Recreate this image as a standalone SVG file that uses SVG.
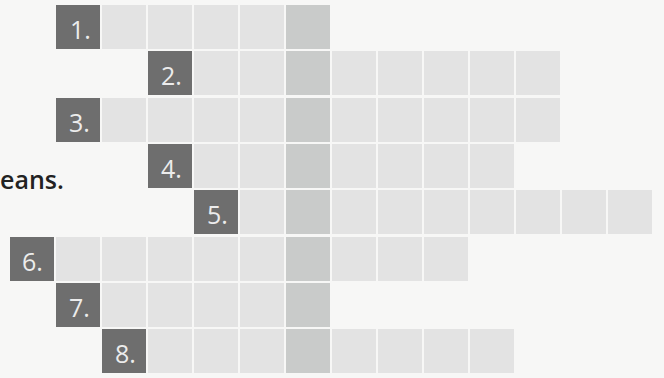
<svg xmlns="http://www.w3.org/2000/svg" width="664" height="378" viewBox="0 0 664 378">
<style>
.bg{fill:#f7f7f6}
.c{fill:#e3e3e3}
.h{fill:#c9cbca}
.l{fill:#6e6e6e}
.n{font-family:"Open Sans","Noto Sans",sans-serif;font-size:25px;fill:#ececec}
.t{font-family:"Open Sans","Noto Sans",sans-serif;font-size:25px;font-weight:600;fill:#222222}
</style>
<rect class="bg" x="0" y="0" width="664" height="378"/>
<text class="t" x="0" y="189">eans.</text>
<g id="row1">
<rect class="l" x="56" y="5" width="44" height="44"/><text class="n" x="70" y="39">1.</text>
<rect class="c" x="102" y="5" width="44" height="44"/><rect class="c" x="148" y="5" width="44" height="44"/><rect class="c" x="194" y="5" width="44" height="44"/><rect class="c" x="240" y="5" width="44" height="44"/><rect class="h" x="286" y="5" width="44" height="44"/>
</g>
<g id="row2">
<rect class="l" x="148" y="51" width="44" height="44"/><text class="n" x="161" y="85">2.</text>
<rect class="c" x="194" y="51" width="44" height="44"/><rect class="c" x="240" y="51" width="44" height="44"/><rect class="h" x="286" y="51" width="44" height="44"/><rect class="c" x="332" y="51" width="44" height="44"/><rect class="c" x="378" y="51" width="44" height="44"/><rect class="c" x="424" y="51" width="44" height="44"/><rect class="c" x="470" y="51" width="44" height="44"/><rect class="c" x="516" y="51" width="44" height="44"/>
</g>
<g id="row3">
<rect class="l" x="56" y="98" width="44" height="44"/><text class="n" x="69" y="132">3.</text>
<rect class="c" x="102" y="98" width="44" height="44"/><rect class="c" x="148" y="98" width="44" height="44"/><rect class="c" x="194" y="98" width="44" height="44"/><rect class="c" x="240" y="98" width="44" height="44"/><rect class="h" x="286" y="98" width="44" height="44"/><rect class="c" x="332" y="98" width="44" height="44"/><rect class="c" x="378" y="98" width="44" height="44"/><rect class="c" x="424" y="98" width="44" height="44"/><rect class="c" x="470" y="98" width="44" height="44"/><rect class="c" x="516" y="98" width="44" height="44"/>
</g>
<g id="row4">
<rect class="l" x="148" y="144" width="44" height="44"/><text class="n" x="161" y="178">4.</text>
<rect class="c" x="194" y="144" width="44" height="44"/><rect class="c" x="240" y="144" width="44" height="44"/><rect class="h" x="286" y="144" width="44" height="44"/><rect class="c" x="332" y="144" width="44" height="44"/><rect class="c" x="378" y="144" width="44" height="44"/><rect class="c" x="424" y="144" width="44" height="44"/><rect class="c" x="470" y="144" width="44" height="44"/>
</g>
<g id="row5">
<rect class="l" x="194" y="190" width="44" height="44"/><text class="n" x="207" y="224">5.</text>
<rect class="c" x="240" y="190" width="44" height="44"/><rect class="h" x="286" y="190" width="44" height="44"/><rect class="c" x="332" y="190" width="44" height="44"/><rect class="c" x="378" y="190" width="44" height="44"/><rect class="c" x="424" y="190" width="44" height="44"/><rect class="c" x="470" y="190" width="44" height="44"/><rect class="c" x="516" y="190" width="44" height="44"/><rect class="c" x="562" y="190" width="44" height="44"/><rect class="c" x="608" y="190" width="44" height="44"/>
</g>
<g id="row6">
<rect class="l" x="10" y="237" width="44" height="44"/><text class="n" x="22" y="271">6.</text>
<rect class="c" x="56" y="237" width="44" height="44"/><rect class="c" x="102" y="237" width="44" height="44"/><rect class="c" x="148" y="237" width="44" height="44"/><rect class="c" x="194" y="237" width="44" height="44"/><rect class="c" x="240" y="237" width="44" height="44"/><rect class="h" x="286" y="237" width="44" height="44"/><rect class="c" x="332" y="237" width="44" height="44"/><rect class="c" x="378" y="237" width="44" height="44"/><rect class="c" x="424" y="237" width="44" height="44"/>
</g>
<g id="row7">
<rect class="l" x="56" y="283" width="44" height="44"/><text class="n" x="69" y="317">7.</text>
<rect class="c" x="102" y="283" width="44" height="44"/><rect class="c" x="148" y="283" width="44" height="44"/><rect class="c" x="194" y="283" width="44" height="44"/><rect class="c" x="240" y="283" width="44" height="44"/><rect class="h" x="286" y="283" width="44" height="44"/>
</g>
<g id="row8">
<rect class="l" x="102" y="329" width="44" height="44"/><text class="n" x="115" y="363">8.</text>
<rect class="c" x="148" y="329" width="44" height="44"/><rect class="c" x="194" y="329" width="44" height="44"/><rect class="c" x="240" y="329" width="44" height="44"/><rect class="h" x="286" y="329" width="44" height="44"/><rect class="c" x="332" y="329" width="44" height="44"/><rect class="c" x="378" y="329" width="44" height="44"/><rect class="c" x="424" y="329" width="44" height="44"/><rect class="c" x="470" y="329" width="44" height="44"/>
</g>
</svg>
